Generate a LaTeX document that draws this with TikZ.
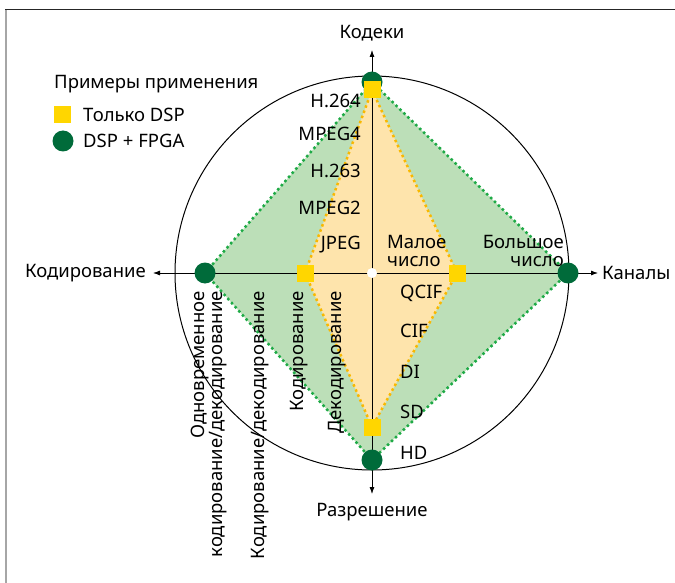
\documentclass[tikz,border=0pt]{standalone}
\usepackage{fontspec}
\setmainfont{Noto Sans}
\usetikzlibrary{arrows.meta}
\definecolor{dspgreen}{RGB}{0,107,58}
\definecolor{dspyellow}{RGB}{255,214,0}
\definecolor{greenfill}{RGB}{188,223,184}
\definecolor{yellowfill}{RGB}{254,228,172}
\definecolor{greenline}{RGB}{30,170,70}
\definecolor{yellowline}{RGB}{249,184,0}

\begin{document}
\begin{tikzpicture}
  [x=1pt,y=-1pt,font=\fontsize{18.5}{18.5}\selectfont,
   gdot/.style={circle,fill=dspgreen,minimum size=21pt,inner sep=0pt},
   ysq/.style={rectangle,fill=dspyellow,minimum size=17pt,inner sep=0pt},
   lbl/.style={inner sep=0pt},
   axis/.style={-{Latex[length=7pt,width=5pt]},line width=0.8pt},
   greenedge/.style={greenline,line width=2.5pt,dash pattern=on 2.5pt off 3pt},
   yellowedge/.style={yellowline,line width=2.5pt,dash pattern=on 2.5pt off 3pt}]
  \useasboundingbox (0,0) rectangle (675,583);
  \draw[gray!70,line width=1.5pt] (6,583) -- (6,9.5);
  \draw[black!85,line width=1.2pt] (5.3,9.5) -- (675,9.5);

  \coordinate (o) at (372,273);
  \coordinate (gT) at (372,82);
  \coordinate (gL) at (205,273);
  \coordinate (gR) at (568,273);
  \coordinate (gB) at (372,460);
  \coordinate (yT) at (372,90);
  \coordinate (yL) at (305,273);
  \coordinate (yR) at (457,273);
  \coordinate (yB) at (372,427);
  \coordinate (aN) at (372,50);
  \coordinate (aS) at (372,494);
  \coordinate (aW) at (153,273);
  \coordinate (aE) at (598,273);

  \draw[line width=1pt] (o) circle (197);
  \fill[greenfill] (gT) -- (gR) -- (gB) -- (gL) -- cycle;
  \fill[yellowfill] (yT) -- (yR) -- (yB) -- (yL) -- cycle;

  \foreach \to in {aN,aS,aW,aE}
    \draw[axis] (o) -- (\to);

  \foreach \from/\to in {gT/gR,gR/gB,gB/gL,gL/gT}
    \draw[greenedge] (\from) -- (\to);
  \foreach \from/\to in {yT/yR,yR/yB,yB/yL,yL/yT}
    \draw[yellowedge] (\from) -- (\to);

  \node[circle,fill=white,minimum size=10pt,inner sep=0pt] (centre) at (o) {};
  \node[gdot] (dT) at (gT) {};
  \node[gdot] (dL) at (gL) {};
  \node[gdot] (dR) at (gR) {};
  \node[gdot] (dB) at (gB) {};
  \node[ysq] (sT) at (yT) {};
  \node[ysq] (sL) at (yL) {};
  \node[ysq] (sR) at (yR) {};
  \node[ysq] (sB) at (yB) {};

  % axis names
  \node[lbl] (codecs) at (372,33) {Кодеки};
  \node[lbl,anchor=east] (encoding) at (146,273) {Кодирование};
  \node[lbl,anchor=west] (channels) at (602,273) {Каналы};
  \node[lbl] (resolution) at (372,512) {Разрешение};

  % legend
  \node[lbl,anchor=west] (legend) at (54,84) {Примеры применения};
  \node[ysq] (lsq) at (62,115) {};
  \node[lbl,anchor=west] (lsqtext) at (83,115) {Только DSP};
  \node[gdot] (ldot) at (63,141) {};
  \node[lbl,anchor=west] (ldottext) at (83,141) {DSP + FPGA};

  \foreach \txt/\y in {H.264/101,MPEG4/134,H.263/171,MPEG2/208,JPEG/245}
    \node[lbl,anchor=east] (codec\y) at (361,\y) {\txt};
  \foreach \txt/\y in {QCIF/293,CIF/331,DI/372,SD/412,HD/453}
    \node[lbl,anchor=west] (res\y) at (400,\y) {\txt};

  \node[lbl,anchor=west,align=left] (few) at (387,251) {Малое\\число};
  \node[lbl,anchor=east,align=right] (many) at (564,251) {Большое\\число};

  \node[lbl,rotate=90,anchor=east,align=right] (both) at (209,291)
    {Одновременное\\кодирование/декодирование};
  \node[lbl,rotate=90,anchor=east] (encdec) at (260,291) {Кодирование/декодирование};
  \node[lbl,rotate=90,anchor=east] (enc) at (299,291) {Кодирование};
  \node[lbl,rotate=90,anchor=east] (dec) at (337,291) {Декодирование};
\end{tikzpicture}
\end{document}
